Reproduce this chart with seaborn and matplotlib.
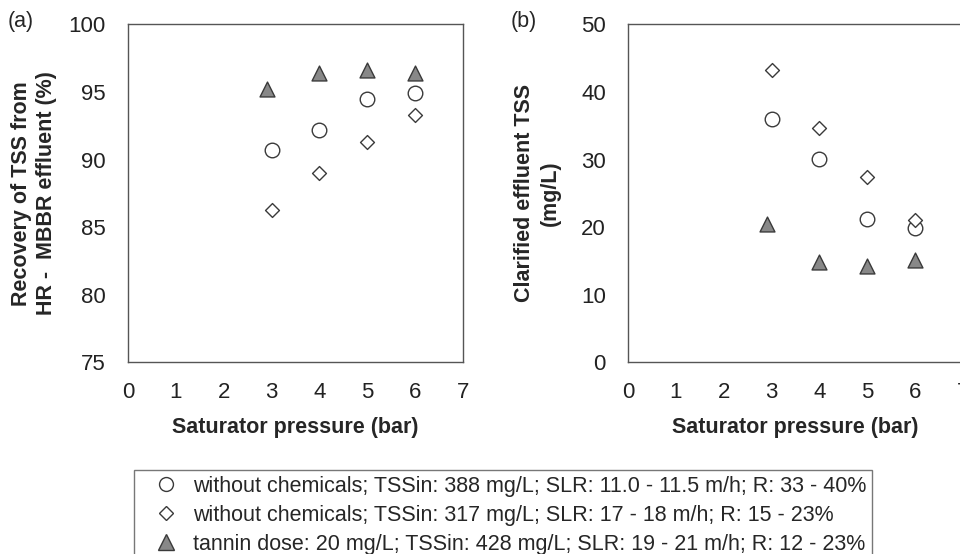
import seaborn as sns
import matplotlib.pyplot as plt
from matplotlib.lines import Line2D
import pandas as pd

# saturator pressure (bar)
pressure = [3, 4, 5, 6]
pressure_tannin = [2.9, 4, 5, 6]

# (a) recovery of TSS (%)
rec_388 = [90.7, 92.2, 94.5, 94.9]
rec_317 = [86.3, 89.0, 91.3, 93.3]
rec_tannin = [95.2, 96.4, 96.6, 96.4]

# (b) clarified effluent TSS (mg/L)
tss_388 = [36.0, 30.0, 21.2, 19.8]
tss_317 = [43.2, 34.7, 27.4, 21.1]
tss_tannin = [20.4, 14.9, 14.2, 15.1]

labels = [
    'without chemicals; TSSin: 388 mg/L; SLR: 11.0 - 11.5 m/h; R: 33 - 40%',
    'without chemicals; TSSin: 317 mg/L; SLR: 17 - 18 m/h; R: 15 - 23%',
    'tannin dose: 20 mg/L; TSSin: 428 mg/L; SLR: 19 - 21 m/h; R: 12 - 23%',
]

sns.set_style('white')
plt.rcParams['font.family'] = ['Liberation Sans', 'DejaVu Sans']

fs = 15.5
edge = '#3a3a3a'
styles = [
    dict(marker='o', s=110, facecolor='white', edgecolor=edge, linewidth=1.0),
    dict(marker='D', s=50, facecolor='white', edgecolor=edge, linewidth=1.0),
    dict(marker='^', s=115, facecolor='#888888', edgecolor=edge, linewidth=1.0),
]

fig = plt.figure(figsize=(9.6, 5.54), dpi=100)
ax_a = fig.add_axes([128 / 960, 1 - 362.3 / 554, 335 / 960, 338 / 554])
ax_b = fig.add_axes([628 / 960, 1 - 362.3 / 554, 335 / 960, 338 / 554])

xs = [pressure, pressure, pressure_tannin]
panels = [
    (ax_a, [rec_388, rec_317, rec_tannin], (75, 100), 5,
     'Recovery of TSS from\nHR -  MBBR effluent (%)', (34 - 128) / 335),
    (ax_b, [tss_388, tss_317, tss_tannin], (0, 50), 10,
     'Clarified effluent TSS\n(mg/L)', (537 - 628) / 335),
]

for ax, ys, ylim, step, ylabel, lx in panels:
    for x, y, st in zip(xs, ys, styles):
        df = pd.DataFrame({'p': x, 'v': y})
        sns.scatterplot(data=df, x='p', y='v', ax=ax, zorder=3, **st)
    ax.set_xlim(0, 7)
    ax.set_ylim(*ylim)
    ax.set_xticks(range(0, 8))
    ax.set_yticks(range(ylim[0], ylim[1] + 1, step))
    ax.tick_params(axis='both', labelsize=16, colors='#222222',
                   direction='out', length=6, width=1, color='#555555')
    ax.tick_params(axis='y', pad=10)
    ax.tick_params(axis='x', pad=8)
    for sp in ax.spines.values():
        sp.set_color('#555555')
        sp.set_linewidth(1.0)
    ax.set_xlabel('Saturator pressure (bar)', fontsize=fs, fontweight='bold', va='center')
    ax.xaxis.set_label_coords(0.5, -(427 - 362.3) / 338)
    ax.set_ylabel(ylabel, fontsize=fs, fontweight='bold', linespacing=1.3, va='center')
    ax.yaxis.set_label_coords(lx, 0.5)

fig.text(8 / 960, 1 - 21 / 554, '(a)', fontsize=fs, va='center')
fig.text(511 / 960, 1 - 21 / 554, '(b)', fontsize=fs, va='center')

handles = [
    Line2D([], [], linestyle='none', marker='o', markersize=10, markerfacecolor='white',
           markeredgecolor=edge),
    Line2D([], [], linestyle='none', marker='D', markersize=7, markerfacecolor='white',
           markeredgecolor=edge),
    Line2D([], [], linestyle='none', marker='^', markersize=11, markerfacecolor='#888888',
           markeredgecolor=edge),
]
leg = fig.legend(handles, labels, loc='upper left', bbox_to_anchor=(134 / 960, 1 - 470 / 554),
                 fontsize=fs, frameon=True, fancybox=False, handlelength=2.44,
                 handletextpad=0.0, borderpad=0.28, labelspacing=0.36, borderaxespad=0)
leg.get_frame().set_edgecolor('#555555')
leg.get_frame().set_linewidth(1.0)

fig.savefig('out.png', dpi=100)
